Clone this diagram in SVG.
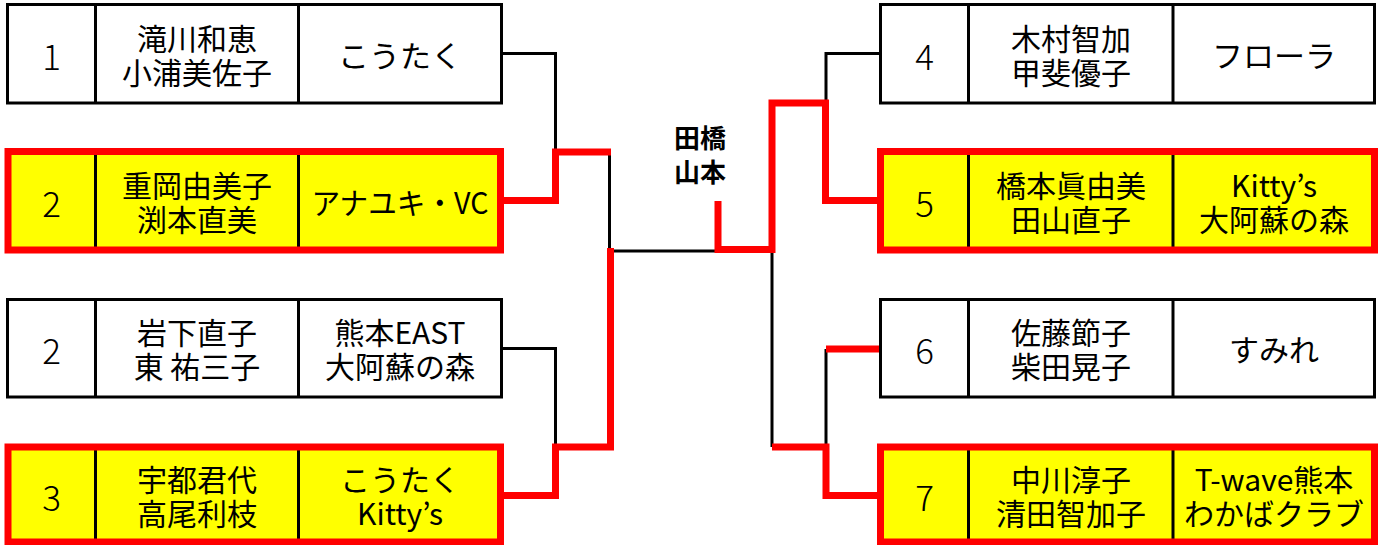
<svg xmlns="http://www.w3.org/2000/svg" width="1381" height="545" viewBox="0 0 1381 545">
<style>
.bw{fill:#fff;stroke:#000;stroke-width:3}
.by{fill:#ff0;stroke:none}
.rb{fill:none;stroke:#f00;stroke-width:7}
.dv{stroke:#000;stroke-width:3}
.cb{fill:none;stroke:#000;stroke-width:3}
.cr{fill:none;stroke:#f00;stroke-width:7;stroke-linejoin:miter}
text{font-family:"Noto Sans CJK JP","Noto Sans",sans-serif;font-size:30px;text-anchor:middle;dominant-baseline:central;fill:#000}
.num{font-size:35px;font-weight:300}
.lbl{font-size:26px;font-weight:bold}
</style>
<g id="connectors">
<path class="cb" d="M501 53.5H555.5V152"/>
<path class="cb" d="M609.5 152V251H716"/>
<path class="cb" d="M501 348.5H555.5V447"/>
<path class="cb" d="M880 53.5H826V103"/>
<path class="cb" d="M772 250V447"/>
<path class="cb" d="M826 349V447"/>
<path class="cr" d="M501 200.5H555.5V152H611"/>
<path class="cr" d="M501 495.5H555.5V447H610.5V248"/>
<path class="cr" d="M718 201V249.5H772V103H825.5V200.5H880"/>
<path class="cr" d="M880 349H826"/>
<path class="cr" d="M772 447H826V495.5H880"/>
</g>
<g id="final-label">
<text class="lbl"><tspan x="700" y="136">田橋</tspan><tspan x="700" y="170">山本</tspan></text>
</g>
<g id="node-L1">
<rect class="bw" x="7.5" y="4.5" width="494" height="98.5"/>
<line class="dv" x1="95.5" y1="4.5" x2="95.5" y2="103"/>
<line class="dv" x1="298.5" y1="4.5" x2="298.5" y2="103"/>
<text class="num" x="51.5" y="54">1</text>
<text><tspan x="197" y="37">滝川和恵</tspan><tspan x="197" y="71">小浦美佐子</tspan></text>
<text x="400" y="54" textLength="124" lengthAdjust="spacingAndGlyphs">こうたく</text>
</g>
<g id="node-L2">
<rect class="by" x="8" y="151.5" width="492.5" height="98.5"/>
<line class="dv" x1="95.5" y1="151.5" x2="95.5" y2="250"/>
<line class="dv" x1="298.5" y1="151.5" x2="298.5" y2="250"/>
<rect class="rb" x="8" y="151.5" width="492.5" height="98.5"/>
<text class="num" x="51.5" y="201">2</text>
<text><tspan x="197" y="184">重岡由美子</tspan><tspan x="197" y="218">渕本直美</tspan></text>
<text x="400" y="201" textLength="177" lengthAdjust="spacingAndGlyphs">アナユキ・VC</text>
</g>
<g id="node-L3">
<rect class="bw" x="7.5" y="299.5" width="494" height="97.5"/>
<line class="dv" x1="95.5" y1="299.5" x2="95.5" y2="397"/>
<line class="dv" x1="298.5" y1="299.5" x2="298.5" y2="397"/>
<text class="num" x="51.5" y="348">2</text>
<text><tspan x="197" y="331">岩下直子</tspan><tspan x="197" y="365">東 祐三子</tspan></text>
<text><tspan x="400" y="331">熊本EAST</tspan><tspan x="400" y="365">大阿蘇の森</tspan></text>
</g>
<g id="node-L4">
<rect class="by" x="8" y="447" width="492.5" height="95"/>
<line class="dv" x1="95.5" y1="447" x2="95.5" y2="542"/>
<line class="dv" x1="298.5" y1="447" x2="298.5" y2="542"/>
<rect class="rb" x="8" y="447" width="492.5" height="95"/>
<text class="num" x="51.5" y="495">3</text>
<text><tspan x="197" y="478">宇都君代</tspan><tspan x="197" y="512">高尾利枝</tspan></text>
<text><tspan x="400" y="478">こうたく</tspan><tspan x="400" y="512">Kitty’s</tspan></text>
</g>
<g id="node-R1">
<rect class="bw" x="880.5" y="4.5" width="494" height="98.5"/>
<line class="dv" x1="968.5" y1="4.5" x2="968.5" y2="103"/>
<line class="dv" x1="1173" y1="4.5" x2="1173" y2="103"/>
<text class="num" x="924.5" y="54">4</text>
<text><tspan x="1071" y="37">木村智加</tspan><tspan x="1071" y="71">甲斐優子</tspan></text>
<text x="1274" y="54" textLength="124" lengthAdjust="spacingAndGlyphs">フローラ</text>
</g>
<g id="node-R2">
<rect class="by" x="880.5" y="151.5" width="494" height="98.5"/>
<line class="dv" x1="968.5" y1="151.5" x2="968.5" y2="250"/>
<line class="dv" x1="1173" y1="151.5" x2="1173" y2="250"/>
<rect class="rb" x="880.5" y="151.5" width="494" height="98.5"/>
<text class="num" x="924.5" y="201">5</text>
<text><tspan x="1071" y="184">橋本眞由美</tspan><tspan x="1071" y="218">田山直子</tspan></text>
<text><tspan x="1274" y="184">Kitty’s</tspan><tspan x="1274" y="218">大阿蘇の森</tspan></text>
</g>
<g id="node-R3">
<rect class="bw" x="880.5" y="299.5" width="494" height="97.5"/>
<line class="dv" x1="968.5" y1="299.5" x2="968.5" y2="397"/>
<line class="dv" x1="1173" y1="299.5" x2="1173" y2="397"/>
<text class="num" x="924.5" y="348">6</text>
<text><tspan x="1071" y="331">佐藤節子</tspan><tspan x="1071" y="365">柴田晃子</tspan></text>
<text x="1274" y="348">すみれ</text>
</g>
<g id="node-R4">
<rect class="by" x="880.5" y="447" width="494" height="95"/>
<line class="dv" x1="968.5" y1="447" x2="968.5" y2="542"/>
<line class="dv" x1="1173" y1="447" x2="1173" y2="542"/>
<rect class="rb" x="880.5" y="447" width="494" height="95"/>
<text class="num" x="924.5" y="495">7</text>
<text><tspan x="1071" y="478">中川淳子</tspan><tspan x="1071" y="512">清田智加子</tspan></text>
<text><tspan x="1274" y="478">T-wave熊本</tspan><tspan x="1274" y="512">わかばクラブ</tspan></text>
</g>
</svg>
